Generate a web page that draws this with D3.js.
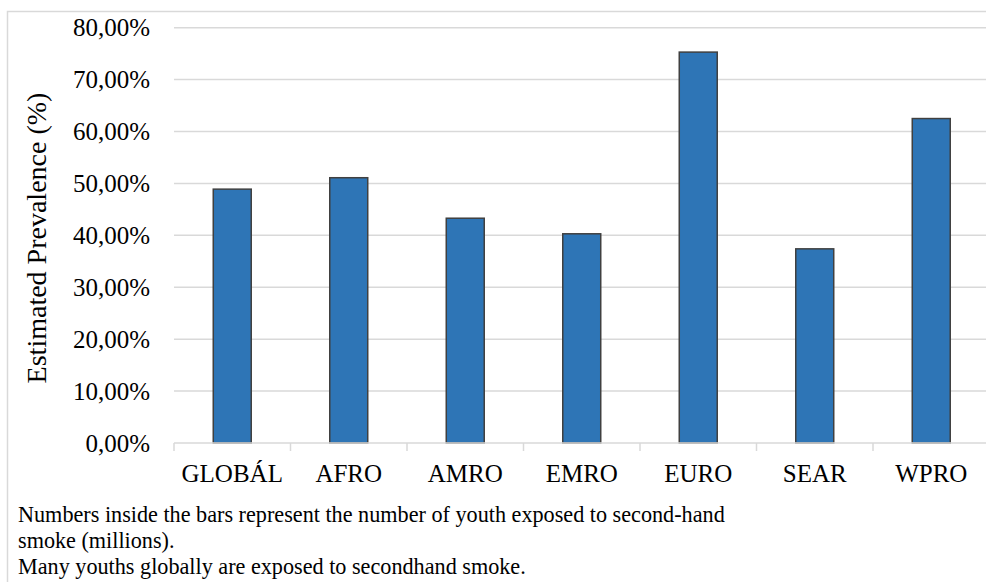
<!DOCTYPE html>
<html>
<head>
<meta charset="utf-8">
<script src="https://d3js.org/d3.v7.min.js"></script>
<style>
html,body{margin:0;padding:0;background:#fff;}
svg{display:block;}
text{font-family:"Liberation Serif","Times New Roman",serif;fill:#000;}
</style>
</head>
<body>
<svg id="chart" width="986" height="582"></svg>
<script>
const categories = ["GLOBÁL","AFRO","AMRO","EMRO","EURO","SEAR","WPRO"];
const prevalence = [48.9, 51.1, 43.3, 40.3, 75.3, 37.4, 62.5];
const yTicks = [0,10,20,30,40,50,60,70,80];
const yTitle = "Estimated Prevalence (%)";
const footnotes = [
  "Numbers inside the bars represent the number of youth exposed to second-hand",
  "smoke (millions).",
  "Many youths globally are exposed to secondhand smoke."
];

const svg = d3.select("#chart");
const W = 986, H = 582;
const serif = '"Liberation Serif","Times New Roman",serif';

// outer frame (top + left visible)
svg.append("rect").attr("x",7.5).attr("y",11.5).attr("width",W).attr("height",H)
  .attr("fill","none").attr("stroke","#d9d9d9").attr("stroke-width",1.5);

const x0 = 174, step = 116.5;
const x = d3.scaleBand().domain(categories)
  .range([x0, x0 + step*categories.length])
  .paddingInner(0.674).paddingOuter(0.337);
const y = d3.scaleLinear().domain([0,80]).range([443, 27.7]);

const loc = d3.formatLocale({decimal:",", thousands:".", grouping:[3], currency:["",""]});
const fmt = v => loc.format(".2f")(v) + "%";

// gridlines
svg.append("g").selectAll("line").data(yTicks.filter(d=>d>0)).join("line")
  .attr("x1", x0).attr("x2", W)
  .attr("y1", d=>y(d)).attr("y2", d=>y(d))
  .attr("stroke","#d9d9d9").attr("stroke-width",1.5);

// y tick labels
svg.append("g").selectAll("text").data(yTicks).join("text")
  .attr("x",150).attr("y",d=>y(d))
  .attr("dy","0.35em").attr("text-anchor","end")
  .attr("font-family",serif)
  .attr("font-size",25).text(fmt);

// bars
svg.append("g").selectAll("rect").data(categories).join("rect")
  .attr("x", d=>x(d)).attr("width", x.bandwidth())
  .attr("y", (d,i)=>y(prevalence[i]))
  .attr("height", (d,i)=>y(0)-y(prevalence[i]))
  .attr("fill","#2e75b6").attr("stroke","#404040").attr("stroke-width",1.5);

// x axis line and ticks
svg.append("line").attr("x1",x0).attr("x2",W).attr("y1",y(0)).attr("y2",y(0))
  .attr("stroke","#d9d9d9").attr("stroke-width",1.5);
const boundaries = d3.range(categories.length+1).map(i => x0 + i*step);
svg.append("g").selectAll("line").data(boundaries).join("line")
  .attr("x1",d=>d).attr("x2",d=>d).attr("y1",y(0)).attr("y2",y(0)+8)
  .attr("stroke","#d9d9d9").attr("stroke-width",1.5);

// x labels
svg.append("g").selectAll("text").data(categories).join("text")
  .attr("x", d=>x(d)+x.bandwidth()/2).attr("y",482)
  .attr("text-anchor","middle").attr("font-family",serif)
  .attr("font-size",25).text(d=>d);

// y title
svg.append("text").attr("transform","translate(46,238) rotate(-90)")
  .attr("text-anchor","middle").attr("font-family",serif)
  .attr("font-size",28).text(yTitle);

// footnotes
svg.append("g").selectAll("text").data(footnotes).join("text")
  .attr("x",18).attr("y",(d,i)=>522+i*26)
  .attr("font-family",serif)
  .attr("font-size",22.2).text(d=>d);
</script>
</body>
</html>
